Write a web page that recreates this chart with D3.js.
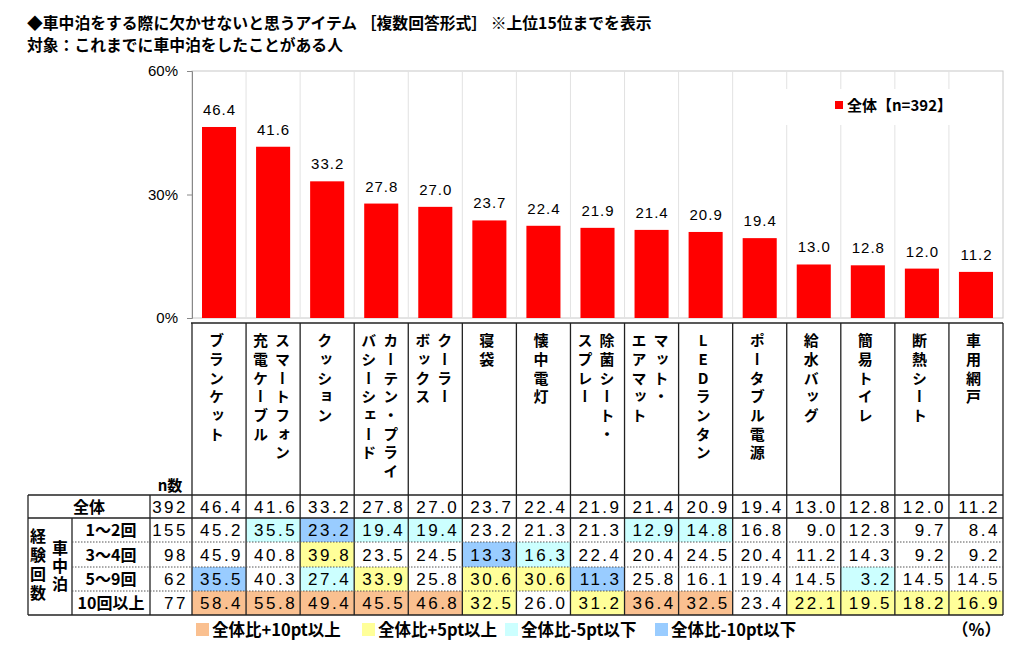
<!DOCTYPE html>
<html><head><meta charset="utf-8">
<script src="https://cdn.jsdelivr.net/npm/d3@7/dist/d3.min.js"></script>
<style>
body{margin:0;background:#fff;}
svg{display:block;}
.jp{font-family:"Noto Sans CJK JP","Noto Sans",sans-serif;font-weight:700;fill:#000;}
.num{font-family:"Liberation Sans",Arial,sans-serif;fill:#000;}
</style></head><body>
<svg id="c" width="1024" height="660"></svg>
<script>
const titleLines = ["◆車中泊をする際に欠かせないと思うアイテム ［複数回答形式］ ※上位15位までを表示", "対象：これまでに車中泊をしたことがある人"];
const categories = ["ブランケット","スマートフォン充電ケーブル","クッション","カーテン・プライバシーシェード","クーラーボックス","寝袋","懐中電灯","除菌シート・スプレー","マット・エアマット","LEDランタン","ポータブル電源","給水バッグ","簡易トイレ","断熱シート","車用網戸"];
const categoryLines = [["ブランケット"],["スマートフォン","充電ケーブル"],["クッション"],["カーテン・プライ","バシーシェード"],["クーラー","ボックス"],["寝袋"],["懐中電灯"],["除菌シート・","スプレー"],["マット・","エアマット"],["LEDランタン"],["ポータブル電源"],["給水バッグ"],["簡易トイレ"],["断熱シート"],["車用網戸"]];
const overallLabel = "全体";
const overallN = 392;
const overallValues = [46.4,41.6,33.2,27.8,27.0,23.7,22.4,21.9,21.4,20.9,19.4,13.0,12.8,12.0,11.2];
const groupTitleOuter = "経験回数";
const groupTitleInner = "車中泊";
const groupLabels = ["1～2回","3～4回","5～9回","10回以上"];
const groupN = [155,98,62,77];
const group1Values = [45.2,35.5,23.2,19.4,19.4,23.2,21.3,21.3,12.9,14.8,16.8,9.0,12.3,9.7,8.4];
const group2Values = [45.9,40.8,39.8,23.5,24.5,13.3,16.3,22.4,20.4,24.5,20.4,11.2,14.3,9.2,9.2];
const group3Values = [35.5,40.3,27.4,33.9,25.8,30.6,30.6,11.3,25.8,16.1,19.4,14.5,3.2,14.5,14.5];
const group4Values = [58.4,55.8,49.4,45.5,46.8,32.5,26.0,31.2,36.4,32.5,23.4,22.1,19.5,18.2,16.9];
const groupValues = [group1Values,group2Values,group3Values,group4Values];
const yTicks = [0,30,60];
const legendLabel = "全体【n=392】";
const highlightLabels = ["全体比+10pt以上","全体比+5pt以上","全体比-5pt以下","全体比-10pt以下"];
const highlightColors = ["#FAC090","#FFFF99","#CCFFFF","#99CCFF"];
const unitLabel = "（%）";
const nLabel = "n数";

const svg = d3.select("#c");
const x = d3.scaleBand().domain(d3.range(categories.length)).range([192,1003]).padding(0);
const y = d3.scaleLinear().domain([0,60]).range([318,71]);
const bw = x.bandwidth();

// title
svg.selectAll("text.title").data(titleLines).join("text")
  .attr("class","jp").attr("x",27).attr("y",(d,i)=>29+i*22)
  .style("font-size","15.8px").text(d=>d);

// plot frame
svg.append("rect").attr("x",192).attr("y",71).attr("width",1003-192).attr("height",318-71)
  .attr("fill","none").attr("stroke","#c8c8c8").attr("stroke-width",1);
svg.append("g").selectAll("line").data(d3.range(1,categories.length)).join("line")
  .attr("x1",i=>x(i)).attr("x2",i=>x(i)).attr("y1",71).attr("y2",318)
  .attr("stroke","#e2e2e2").attr("stroke-width",1);

// axis
const ax = svg.append("g").attr("transform","translate(192,0)")
  .call(d3.axisLeft(y).tickValues(yTicks).tickFormat(d=>d+"%").tickSize(5).tickPadding(9));
ax.select(".domain").attr("stroke","#888");
ax.selectAll(".tick line").attr("stroke","#888");
ax.selectAll(".tick text").attr("class","num").style("font-size","15px").attr("fill","#000");

// bars
svg.append("g").selectAll("rect").data(overallValues).join("rect")
  .attr("x",(d,i)=>x(i)+bw*0.185).attr("width",bw*0.63)
  .attr("y",d=>y(d)).attr("height",d=>y(0)-y(d)).attr("fill","#ff0000");
svg.append("g").selectAll("text").data(overallValues).join("text")
  .attr("class","num").attr("text-anchor","middle")
  .attr("x",(d,i)=>x(i)+bw/2+0.5).attr("y",d=>y(d)-12)
  .style("font-size","15px").style("letter-spacing","1px").text(d=>d.toFixed(1));

// legend
const lg = svg.append("g");
lg.append("rect").attr("x",782).attr("y",89).attr("width",172).attr("height",36).attr("fill","#fff");
lg.append("rect").attr("x",835).attr("y",101).attr("width",8).attr("height",8).attr("fill","#ff0000");
lg.append("text").attr("class","jp").attr("x",847).attr("y",110.5).style("font-size","15px").text(legendLabel);

// header table
const hTop = 323;
const rowY = [495,518,542,567,591,615];
const lineC = "#222";
const tg = svg.append("g");

// highlight cells
function hl(v, base){
  const d = Math.round((v-base)*10)/10;
  if (d >= 10) return highlightColors[0];
  if (d >= 5) return highlightColors[1];
  if (d <= -10) return highlightColors[3];
  if (d <= -5) return highlightColors[2];
  return null;
}
groupValues.forEach((vals,gi)=>{
  tg.append("g").selectAll("rect").data(vals).join("rect")
    .attr("x",(d,i)=>x(i)).attr("width",bw)
    .attr("y",rowY[gi+1]).attr("height",rowY[gi+2]-rowY[gi+1])
    .attr("fill",(d,i)=>hl(d,overallValues[i])||"none");
});

// header text (vertical)
categoryLines.forEach((lines,ci)=>{
  const cx = x(ci)+bw/2;
  const offs = lines.length===1 ? [-2.5] : [9.5,-12.5];
  lines.forEach((t,li)=>{
    tg.append("text").attr("class","jp")
      .attr("x",cx+offs[li]).attr("y",333)
      .style("writing-mode","vertical-rl").style("text-orientation","upright")
      .style("font-size","15px").style("letter-spacing","3.7px")
      .text(t);
  });
});

// lines
tg.append("line").attr("x1",191).attr("x2",1003).attr("y1",hTop).attr("y2",hTop).attr("stroke",lineC).attr("stroke-width",1.3);
d3.range(0,categories.length+1).forEach(i=>{
  const xx = i<categories.length ? x(i) : 1003;
  tg.append("line").attr("x1",xx).attr("x2",xx).attr("y1",hTop).attr("y2",rowY[5]).attr("stroke",lineC).attr("stroke-width",1.3);
});
tg.append("line").attr("x1",28).attr("x2",28).attr("y1",rowY[0]).attr("y2",rowY[5]).attr("stroke",lineC).attr("stroke-width",1.3);
tg.append("line").attr("x1",150).attr("x2",150).attr("y1",rowY[0]).attr("y2",rowY[5]).attr("stroke",lineC).attr("stroke-width",1.3);
tg.append("line").attr("x1",72).attr("x2",72).attr("y1",rowY[1]).attr("y2",rowY[5]).attr("stroke",lineC).attr("stroke-width",1.3);
[0,1,5].forEach(r=>{
  tg.append("line").attr("x1",28).attr("x2",1003).attr("y1",rowY[r]).attr("y2",rowY[r]).attr("stroke",lineC).attr("stroke-width",1.3);
});
[2,3,4].forEach(r=>{
  tg.append("line").attr("x1",72).attr("x2",1003).attr("y1",rowY[r]).attr("y2",rowY[r]).attr("stroke","#555").attr("stroke-width",1).attr("stroke-dasharray","1.5,1.5");
});

// n label
tg.append("text").attr("class","jp").attr("x",170).attr("y",491).attr("text-anchor","middle").style("font-size","15px").text(nLabel);

// overall row
const midY = r => (rowY[r]+rowY[r+1])/2 + 6;
tg.append("text").attr("class","jp").attr("x",89).attr("y",midY(0)).attr("text-anchor","middle").style("font-size","16px").text(overallLabel);
tg.append("text").attr("class","num").attr("x",188).attr("y",midY(0)).attr("text-anchor","end").style("font-size","17px").style("letter-spacing","2.5px").text(overallN);
tg.append("g").selectAll("text").data(overallValues).join("text")
  .attr("class","num").attr("x",(d,i)=>x(i)+bw-3).attr("y",midY(0)).attr("text-anchor","end")
  .style("font-size","17px").style("letter-spacing","2.5px").text(d=>d.toFixed(1));

groupValues.forEach((vals,gi)=>{
  const r = gi+1;
  tg.append("text").attr("class","jp").attr("x",111).attr("y",midY(r)).attr("text-anchor","middle").style("font-size","16px").text(groupLabels[gi]);
  tg.append("text").attr("class","num").attr("x",188).attr("y",midY(r)).attr("text-anchor","end").style("font-size","17px").style("letter-spacing","2.5px").text(groupN[gi]);
  tg.append("g").selectAll("text").data(vals).join("text")
    .attr("class","num").attr("x",(d,i)=>x(i)+bw-3).attr("y",midY(r)).attr("text-anchor","end")
    .style("font-size","17px").style("letter-spacing","2.5px").text(d=>d.toFixed(1));
});

// vertical group titles
tg.append("text").attr("class","jp").attr("x",38).attr("y",566).attr("text-anchor","middle")
  .style("writing-mode","vertical-rl").style("font-size","16px").style("letter-spacing","3px").text(groupTitleOuter);
tg.append("text").attr("class","jp").attr("x",60).attr("y",567).attr("text-anchor","middle")
  .style("writing-mode","vertical-rl").style("font-size","16px").style("letter-spacing","2px").text(groupTitleInner);

// bottom legend
const legX = [196,362,505,655];
const bl = svg.append("g");
highlightLabels.forEach((t,i)=>{
  bl.append("rect").attr("x",legX[i]).attr("y",623).attr("width",13).attr("height",13).attr("fill",highlightColors[i]);
  bl.append("text").attr("class","jp").attr("x",legX[i]+16).attr("y",636).style("font-size","16.5px").text(t);
});
bl.append("text").attr("class","jp").attr("x",1001).attr("y",636).attr("text-anchor","end").style("font-size","16.5px").text(unitLabel);
</script>
</body></html>
